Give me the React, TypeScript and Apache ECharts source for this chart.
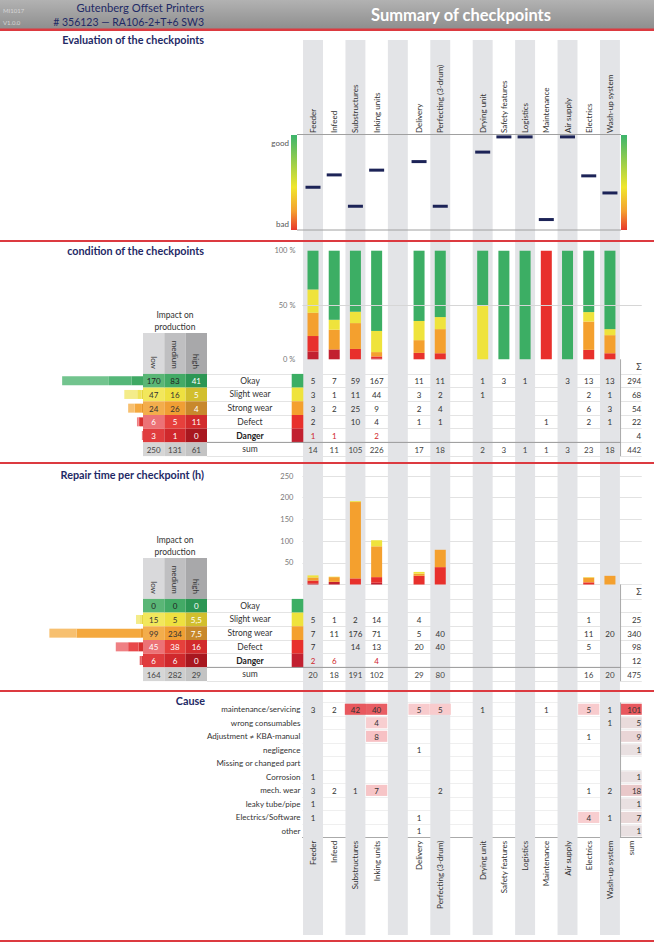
import React, { useEffect, useRef } from 'react';
import * as echarts from 'echarts';

// ---------------- data ----------------
const checkpoints = ['Feeder', 'Infeed', 'Substructures', 'Inking units', '_a', 'Delivery', 'Perfecting (3-drum)', '_b', 'Drying unit', 'Safety features', 'Logistics', 'Maintenance', 'Air supply', 'Electrics', 'Wash-up system', 'sum'];

// evaluation score (0 = bad, 1 = good)
const evaluationScore = [0.45, 0.58, 0.25, 0.63, null, 0.72, 0.25, null, 0.82, 0.98, 0.98, 0.11, 0.98, 0.57, 0.39, null];

const conditions = ['Okay', 'Slight wear', 'Strong wear', 'Defect', 'Danger'];
const impactLevels = ['low', 'medium', 'high'];

// condition counts per checkpoint (15 columns)
const condOkay = [5, 7, 59, 167, 0, 11, 11, 0, 1, 3, 1, 0, 3, 13, 13];
const condSlight = [3, 1, 11, 44, 0, 3, 2, 0, 1, 0, 0, 0, 0, 2, 1];
const condStrong = [3, 2, 25, 9, 0, 2, 4, 0, 0, 0, 0, 0, 0, 6, 3];
const condDefect = [2, 0, 10, 4, 0, 1, 1, 0, 0, 0, 0, 1, 0, 2, 1];
const condDanger = [1, 1, 0, 2, 0, 0, 0, 0, 0, 0, 0, 0, 0, 0, 0];
const condRowSums = [294, 68, 54, 22, 4];
const condColSums = [14, 11, 105, 226, 0, 17, 18, 0, 2, 3, 1, 1, 3, 23, 18];
const condTotal = 442;
const condImpactLow = [170, 47, 24, 6, 3];
const condImpactMedium = [83, 16, 26, 5, 1];
const condImpactHigh = [41, 5, 4, 11, 0];
const condImpactSum = [250, 131, 61];

// repair time (h) per checkpoint
const repairOkay = [0, 0, 0, 0, 0, 0, 0, 0, 0, 0, 0, 0, 0, 0, 0];
const repairSlight = [5, 1, 2, 14, 0, 4, 0, 0, 0, 0, 0, 0, 0, 1, 0];
const repairStrong = [7, 11, 176, 71, 0, 5, 40, 0, 0, 0, 0, 0, 0, 11, 20];
const repairDefect = [7, 0, 14, 13, 0, 20, 40, 0, 0, 0, 0, 0, 0, 5, 0];
const repairDanger = [2, 6, 0, 4, 0, 0, 0, 0, 0, 0, 0, 0, 0, 0, 0];
const repairRowSums = [0, 25, 340, 98, 12];
const repairColSums = [20, 18, 191, 102, 0, 29, 80, 0, 0, 0, 0, 0, 0, 16, 20];
const repairTotal = 475;
const repairImpactLow = [0, 15, 99, 45, 6];
const repairImpactMedium = [0, 5, 234, 38, 6];
const repairImpactHigh = [0, 5.5, 7.5, 16, 0];
const repairImpactSum = [164, 282, 29];

// causes (15 checkpoint columns + sum)
const causes = ['maintenance/servicing', 'wrong consumables', 'Adjustment ≠ KBA-manual', 'negligence', 'Missing or changed part', 'Corrosion', 'mech. wear', 'leaky tube/pipe', 'Electrics/Software', 'other'];
const causeMaintenance = [3, 2, 42, 40, 0, 5, 5, 0, 1, 0, 0, 1, 0, 5, 1, 101];
const causeConsumables = [0, 0, 0, 4, 0, 0, 0, 0, 0, 0, 0, 0, 0, 0, 1, 5];
const causeAdjustment = [0, 0, 0, 8, 0, 0, 0, 0, 0, 0, 0, 0, 0, 1, 0, 9];
const causeNegligence = [0, 0, 0, 0, 0, 1, 0, 0, 0, 0, 0, 0, 0, 0, 0, 1];
const causeMissing = [0, 0, 0, 0, 0, 0, 0, 0, 0, 0, 0, 0, 0, 0, 0, 0];
const causeCorrosion = [1, 0, 0, 0, 0, 0, 0, 0, 0, 0, 0, 0, 0, 0, 0, 1];
const causeMechWear = [3, 2, 1, 7, 0, 0, 2, 0, 0, 0, 0, 0, 0, 1, 2, 18];
const causeLeaky = [1, 0, 0, 0, 0, 0, 0, 0, 0, 0, 0, 0, 0, 0, 0, 1];
const causeElectrics = [1, 0, 0, 0, 0, 1, 0, 0, 0, 0, 0, 0, 0, 4, 1, 7];
const causeOther = [0, 0, 0, 0, 0, 1, 0, 0, 0, 0, 0, 0, 0, 0, 0, 1];

// ---------------- styles / layout ----------------
const FONT = 'Lato, "Noto Sans", sans-serif';
const NAVY = '#1f2a66';
const RED_LINE = '#dc3a40';
const STRIPE = '#e3e4e7';
const C_OKAY = '#3cae64';
const C_SLIGHT = '#efe33c';
const C_STRONG = '#f4a02e';
const C_DEFECT = '#e8302c';
const C_DANGER = '#c22030';
const SWATCH = [C_OKAY, C_SLIGHT, C_STRONG, C_DEFECT, C_DANGER];
const DANGER_TXT = '#d0262c';

const IMP_FILL = [
  ['#5ab676', '#43aa66', '#2c9654'],
  ['#f2e75c', '#eee040', '#d2bf2e'],
  ['#f3ad4c', '#f09e34', '#c8882c'],
  ['#ec7276', '#e6403c', '#d22b2c'],
  ['#e03c3e', '#d0282c', '#a8171f'],
  ['#d6d6d6', '#cdcdcd', '#c3c3c3'],
];
const IMP_TEXT = [
  ['#222', '#222', '#fff'],
  ['#333', '#333', '#fff'],
  ['#333', '#333', '#fff'],
  ['#fff', '#fff', '#fff'],
  ['#fff', '#fff', '#fff'],
  ['#444', '#444', '#444'],
];
const IMP_HDR = ['#d9d9db', '#bfbfc1', '#a8a8aa'];
const LB_COLORS = [
  ['#72c48e', '#55b778', '#3fa964'],
  ['#f4ec8a', '#f0e45a', '#e6d640'],
  ['#f7c070', '#f4a83e', '#e8962a'],
  ['#ef8084', '#e8484a', '#d83030'],
  ['#e85a5e', '#d83a3e', '#b82228'],
];

const COL_LEFT = 302.4;
const COL_W = 21.21;
const NCOL = 16;
const GRID_W = COL_W * NCOL;
const SUM_X = COL_LEFT + 15 * COL_W;
const ROW_H = 13.7;
const IMP_LEFT = 143;
const IMP_W = 64;
const LB_LEFT = 33;
const LB_W = 110;
const SW_LEFT = 291.7;
const SW_W = 11.6;
const LABEL_LEFT = 207;
const CAUSE_TOP = 702.5;
const CAUSE_ROW = 13.52;

function mix(a: string, b: string, t: number) {
  const pa = [1, 3, 5].map((i) => parseInt(a.slice(i, i + 2), 16));
  const pb = [1, 3, 5].map((i) => parseInt(b.slice(i, i + 2), 16));
  const m = pa.map((x, i) => Math.round(x + (pb[i] - x) * t));
  return '#' + m.map((x) => x.toString(16).padStart(2, '0')).join('');
}

type Cell = { c: number; r: number; text: string; fill?: string; color?: string; bold?: boolean; right?: boolean };

function cellSeries(axisIndex: number, cells: Cell[], fillRatio: number) {
  return {
    type: 'custom',
    xAxisIndex: axisIndex,
    yAxisIndex: axisIndex,
    silent: true,
    z: 5,
    data: cells.map((c) => [c.c, c.r]),
    renderItem: (params: any, api: any) => {
      const cell = cells[params.dataIndex];
      const p = api.coord([api.value(0), api.value(1)]);
      const s = api.size([1, 1]);
      const children: any[] = [];
      if (cell.fill) {
        const h = s[1] * fillRatio;
        children.push({ type: 'rect', shape: { x: p[0] - s[0] / 2, y: p[1] - h / 2, width: s[0], height: h }, style: { fill: cell.fill } });
      }
      children.push({
        type: 'text',
        style: {
          text: cell.text,
          x: cell.right ? p[0] + s[0] / 2 - 0.5 : p[0],
          y: p[1] + 0.5,
          align: cell.right ? 'right' : 'center',
          verticalAlign: 'middle',
          fill: cell.color || '#333',
          fontSize: 8,
          fontFamily: FONT,
          fontWeight: cell.bold ? 'bold' : 'normal',
        },
      });
      return { type: 'group', children };
    },
  };
}

function buildOption() {
  const grids: any[] = [];
  const xAxes: any[] = [];
  const yAxes: any[] = [];
  const series: any[] = [];
  const graphics: any[] = [];
  const addGrid = (grid: any, x: any, y: any) => {
    const i = grids.length;
    grids.push(grid);
    xAxes.push({ ...x, gridIndex: i });
    yAxes.push({ ...y, gridIndex: i });
    return i;
  };
  const txt = (text: string, x: number, y: number, o: any = {}) => ({
    type: 'text', z: 20,
    style: { text, x, y, fill: o.fill || '#333', fontSize: o.size || 8, fontFamily: FONT, fontWeight: o.weight || 'normal', align: o.align || 'left', verticalAlign: 'middle' },
  });
  const hline = (x1: number, x2: number, y: number, color: string, w = 1) => ({ type: 'line', z: 15, shape: { x1, y1: y, x2, y2: y }, style: { stroke: color, lineWidth: w } });
  const vline = (x: number, y1: number, y2: number, color: string) => ({ type: 'line', z: 15, shape: { x1: x, y1, x2: x, y2 }, style: { stroke: color, lineWidth: 1 } });

  const topLabel = (v: string) => (v === 'sum' || v.startsWith('_') ? '' : v);
  const bottomLabel = (v: string) => (v.startsWith('_') ? '' : v);
  const rows6 = [...conditions, 'sum'];

  // ---- stripes ----
  const g0 = addGrid({ left: COL_LEFT, top: 40, width: GRID_W, height: 895 }, { type: 'category', data: checkpoints, show: false }, { type: 'value', min: 0, max: 1, show: false });
  series.push({ type: 'bar', xAxisIndex: g0, yAxisIndex: g0, silent: true, z: 0, barWidth: '94%', itemStyle: { color: STRIPE }, data: checkpoints.map((_, i) => (i % 2 === 0 && i < 15 ? 1 : '-')) });

  // ---- header ----
  graphics.push({ type: 'rect', z: 1, shape: { x: 0, y: 0, width: 654, height: 29 }, style: { fill: { type: 'linear', x: 0, y: 0, x2: 0, y2: 1, colorStops: [{ offset: 0, color: '#b2b2b2' }, { offset: 1, color: '#8e8e8e' }] } } });
  graphics.push({ type: 'rect', z: 16, shape: { x: 0, y: 28.5, width: 654, height: 2.5 }, style: { fill: RED_LINE } });
  graphics.push(txt('MI1017', 3, 10, { fill: '#d6d6d6', size: 6 }));
  graphics.push(txt('V1.0.0', 3, 22, { fill: '#d6d6d6', size: 6 }));
  graphics.push(txt('Gutenberg Offset Printers', 204, 7.5, { fill: NAVY, size: 11.2, align: 'right' }));
  graphics.push(txt('# 356123 — RA106-2+T+6 SW3', 204, 21.5, { fill: NAVY, size: 10.5, align: 'right' }));
  graphics.push(txt('Summary of checkpoints', 461, 15, { fill: '#ffffff', size: 16.5, weight: 'bold', align: 'center' }));

  // section titles and lines
  const TS = 10.8;
  graphics.push(txt('Evaluation of the checkpoints', 204, 39.5, { fill: NAVY, size: TS, weight: 'bold', align: 'right' }));
  graphics.push(txt('condition of the checkpoints', 204, 250, { fill: NAVY, size: TS, weight: 'bold', align: 'right' }));
  graphics.push(txt('Repair time per checkpoint (h)', 204, 474, { fill: NAVY, size: TS, weight: 'bold', align: 'right' }));
  graphics.push(txt('Cause', 205, 700, { fill: NAVY, size: TS, weight: 'bold', align: 'right' }));
  [241, 463, 691, 941].forEach((y) => graphics.push({ type: 'rect', z: 16, shape: { x: 0, y: y - 1, width: 654, height: 2 }, style: { fill: RED_LINE } }));

  // ---- evaluation ----
  const g1 = addGrid(
    { left: COL_LEFT, top: 135, width: GRID_W, height: 95 },
    { type: 'category', data: checkpoints, position: 'top', axisLine: { show: false }, axisTick: { show: false }, axisLabel: { rotate: 90, interval: 0, margin: 2, fontSize: 8, color: '#333', fontFamily: FONT, formatter: topLabel } },
    { type: 'value', min: 0, max: 1, show: false }
  );
  series.push({
    type: 'scatter', xAxisIndex: g1, yAxisIndex: g1, silent: true, z: 6, symbol: 'rect', symbolSize: [15, 3], itemStyle: { color: '#1c2357', opacity: 1 },
    data: evaluationScore.map((v, i) => (v == null ? null : [i, v])).filter((d) => d !== null),
  });
  const grad = { type: 'linear', x: 0, y: 0, x2: 0, y2: 1, colorStops: [{ offset: 0, color: '#3cb46c' }, { offset: 0.55, color: '#f0e62c' }, { offset: 0.8, color: '#f4a030' }, { offset: 1, color: '#e8382a' }] };
  graphics.push({ type: 'rect', z: 10, shape: { x: 291, y: 135, width: 6, height: 95 }, style: { fill: grad } });
  graphics.push({ type: 'rect', z: 10, shape: { x: 621, y: 135, width: 6, height: 95 }, style: { fill: grad } });
  graphics.push(hline(297, 621, 134.5, '#a0a0a0'));
  graphics.push(hline(297, 621, 230, '#a0a0a0'));
  graphics.push(txt('good', 289, 143, { fill: '#555', size: 8, align: 'right' }));
  graphics.push(txt('bad', 289, 224, { fill: '#555', size: 8, align: 'right' }));

  // ---- condition / repair sections ----
  const section = (o: any) => {
    const gc = addGrid(
      { left: COL_LEFT, top: o.chartTop, width: GRID_W, height: o.chartH },
      { type: 'category', data: checkpoints, show: false },
      {
        type: 'value', min: 0, max: o.yMax, interval: o.yInterval, axisLine: { show: false }, axisTick: { show: false },
        axisLabel: { formatter: o.yFmt, margin: o.yMargin, fontSize: 7.5, color: '#777', fontFamily: FONT },
        splitLine: { show: o.splitLines, lineStyle: { color: '#e2e2e2' } },
      }
    );
    o.bars.forEach((d: any[], k: number) => {
      series.push({
        type: 'bar', xAxisIndex: gc, yAxisIndex: gc, stack: 'st' + gc, barWidth: 11, silent: true, z: 3, data: d, itemStyle: { color: o.barColors[k] },
        markLine: k === 0 && o.mark50 ? { silent: true, symbol: ['none', 'none'], label: { show: false }, lineStyle: { color: '#d6d6d6', type: 'solid', width: 1 }, data: [{ yAxis: 50 }] } : undefined,
      });
    });

    const tableH = ROW_H * 6;
    // row separator lines
    addGrid(
      { left: LABEL_LEFT, top: o.tableTop, width: SUM_X + COL_W - LABEL_LEFT, height: tableH },
      { type: 'value', min: 0, max: 1, show: false },
      { type: 'category', data: rows6, inverse: true, axisLine: { show: false }, axisTick: { show: false }, axisLabel: { show: false, interval: 0 }, splitLine: { show: true, interval: 0, lineStyle: { color: '#e4e4e4' } } }
    );
    // table
    const gt = addGrid(
      { left: COL_LEFT, top: o.tableTop, width: GRID_W, height: tableH },
      { type: 'category', data: checkpoints, show: false },
      {
        type: 'category', data: rows6, inverse: true, axisLine: { show: false }, axisTick: { show: false },
        axisLabel: {
          interval: 0, align: 'center', margin: COL_LEFT - 250, fontSize: 8.5, color: '#333', fontFamily: FONT,
          formatter: (v: string) => (v === 'Danger' ? `{b|${v}}` : v),
          rich: { b: { fontWeight: 'bold', fontSize: 8.5, color: '#222', fontFamily: FONT } },
        },
      }
    );
    const cells: Cell[] = [];
    o.rows.forEach((row: number[], r: number) => {
      row.forEach((v, c) => {
        if (v) cells.push({ c, r, text: String(v), color: r === 4 ? DANGER_TXT : '#333' });
      });
      if (o.rowSums[r]) cells.push({ c: 15, r, text: String(o.rowSums[r]), right: true });
    });
    o.colSums.forEach((v: number, c: number) => {
      if (v) cells.push({ c, r: 5, text: String(v), color: '#444' });
    });
    cells.push({ c: 15, r: 5, text: String(o.total), right: true, color: '#444' });
    series.push(cellSeries(gt, cells, 1));

    // swatches
    const gs = addGrid({ left: SW_LEFT, top: o.tableTop, width: SW_W, height: ROW_H * 5 }, { type: 'value', min: 0, max: 1, show: false }, { type: 'category', data: conditions, inverse: true, show: false });
    series.push({ type: 'bar', xAxisIndex: gs, yAxisIndex: gs, silent: true, z: 4, barWidth: '100%', data: conditions.map((_, i) => ({ value: 1, itemStyle: { color: SWATCH[i] } })) });

    // impact table
    const gi = addGrid(
      { left: IMP_LEFT, top: o.tableTop, width: IMP_W, height: tableH },
      { type: 'category', data: impactLevels, position: 'top', z: 30, axisLine: { show: false }, axisTick: { show: false }, axisLabel: { rotate: 90, interval: 0, margin: 5, fontSize: 8, color: '#333', fontFamily: FONT } },
      { type: 'category', data: rows6, inverse: true, show: false }
    );
    const icells: Cell[] = [];
    o.impact.forEach((col: number[], j: number) => {
      col.forEach((v, r) => icells.push({ c: j, r, text: o.impFmt(v), fill: IMP_FILL[r][j], color: IMP_TEXT[r][j] }));
    });
    o.impactSum.forEach((v: number, j: number) => icells.push({ c: j, r: 5, text: o.impFmt(v), fill: IMP_FILL[5][j], color: IMP_TEXT[5][j] }));
    series.push(cellSeries(gi, icells, 1));
    impactLevels.forEach((_, j) => {
      graphics.push({ type: 'rect', z: -1, shape: { x: IMP_LEFT + (j * IMP_W) / 3, y: o.hdrTop, width: IMP_W / 3, height: o.tableTop - o.hdrTop }, style: { fill: IMP_HDR[j] } });
    });
    graphics.push(txt('Impact on', IMP_LEFT + IMP_W / 2, o.titleY, { align: 'center', size: 8.5, fill: '#333' }));
    graphics.push(txt('production', IMP_LEFT + IMP_W / 2, o.titleY + 12, { align: 'center', size: 8.5, fill: '#333' }));

    // left bars
    const gb = addGrid({ left: LB_LEFT, top: o.tableTop, width: LB_W, height: ROW_H * 5 }, { type: 'value', min: 0, max: 400, inverse: true, show: false }, { type: 'category', data: conditions, inverse: true, show: false });
    [2, 1, 0].forEach((j) => {
      series.push({ type: 'bar', xAxisIndex: gb, yAxisIndex: gb, stack: 'lb' + gb, barWidth: 9, silent: true, z: 3, data: o.impact[j].map((v: number, i: number) => ({ value: v, itemStyle: { color: LB_COLORS[i][j] } })) });
    });

    // extras
    graphics.push(txt('Σ', 639, o.tableTop - 7, { align: 'center', size: 9, fill: '#444' }));
    graphics.push(vline(SUM_X, o.chartTop + o.chartH, o.tableTop + tableH, '#a8a8a8'));
    graphics.push(hline(LABEL_LEFT, SUM_X, o.tableTop + ROW_H * 5, '#9a9a9a'));
  };

  const pct = (arr: number[]) => arr.map((v, i) => (condColSums[i] ? (v / condColSums[i]) * 100 : '-'));
  section({
    chartTop: 250.7, chartH: 108.6, yMax: 100, yInterval: 50, yFmt: (v: number) => `${v} %`, yMargin: 7, splitLines: false, mark50: true,
    bars: [pct(condDanger), pct(condDefect), pct(condStrong), pct(condSlight), pct(condOkay)],
    barColors: [C_DANGER, C_DEFECT, C_STRONG, C_SLIGHT, C_OKAY],
    tableTop: 373.9, rows: [condOkay, condSlight, condStrong, condDefect, condDanger], rowSums: condRowSums, colSums: condColSums, total: condTotal,
    impact: [condImpactLow, condImpactMedium, condImpactHigh], impactSum: condImpactSum, impFmt: (v: number) => String(v),
    hdrTop: 333, titleY: 315,
  });
  section({
    chartTop: 476, chartH: 108.5, yMax: 250, yInterval: 50, yFmt: (v: number) => (v === 0 ? '' : String(v)), yMargin: 9, splitLines: true, mark50: false,
    bars: [repairDanger, repairDefect, repairStrong, repairSlight].map((a) => a.map((v) => (v ? v : '-'))),
    barColors: [C_DANGER, C_DEFECT, C_STRONG, C_SLIGHT],
    tableTop: 598.9, rows: [repairOkay, repairSlight, repairStrong, repairDefect, repairDanger], rowSums: repairRowSums, colSums: repairColSums, total: repairTotal,
    impact: [repairImpactLow, repairImpactMedium, repairImpactHigh], impactSum: repairImpactSum, impFmt: (v: number) => String(v).replace('.', ','),
    hdrTop: 558, titleY: 540,
  });

  // ---- cause table ----
  const gcause = addGrid(
    { left: COL_LEFT, top: CAUSE_TOP, width: GRID_W, height: CAUSE_ROW * causes.length },
    { type: 'category', data: checkpoints, position: 'bottom', axisLine: { show: true, lineStyle: { color: '#aaaaaa' } }, axisTick: { show: false }, axisLabel: { rotate: 90, interval: 0, margin: 3, fontSize: 8, color: '#333', fontFamily: FONT, formatter: bottomLabel } },
    { type: 'category', data: causes, inverse: true, axisLine: { show: false }, axisTick: { show: false }, axisLabel: { interval: 0, margin: 2, fontSize: 8, color: '#333', fontFamily: FONT }, splitLine: { show: true, interval: 0, lineStyle: { color: '#efefef' } } }
  );
  const causeRows = [causeMaintenance, causeConsumables, causeAdjustment, causeNegligence, causeMissing, causeCorrosion, causeMechWear, causeLeaky, causeElectrics, causeOther];
  const ccells: Cell[] = [];
  causeRows.forEach((row, r) => {
    row.forEach((v, c) => {
      if (!v) return;
      const isSum = c === 15;
      const fill = isSum ? mix('#e9e9e9', '#e8585e', Math.min(1, 0.05 + v / 101)) : v < 4 ? undefined : mix('#ffffff', '#e8585e', Math.min(1, 0.22 + (0.78 * v) / 42));
      ccells.push({ c, r, text: String(v), fill, right: isSum, color: '#333' });
    });
  });
  series.push(cellSeries(gcause, ccells, 0.82));
  graphics.push(vline(SUM_X, CAUSE_TOP, CAUSE_TOP + CAUSE_ROW * causes.length, '#a8a8a8'));

  return {
    animation: false,
    backgroundColor: '#ffffff',
    textStyle: { fontFamily: FONT },
    grid: grids,
    xAxis: xAxes,
    yAxis: yAxes,
    series,
    graphic: graphics,
  };
}

export default function App() {
  const ref = useRef<HTMLDivElement>(null);
  useEffect(() => {
    document.body.style.margin = '0';
    const chart = echarts.init(ref.current as HTMLDivElement, undefined, { renderer: 'svg' });
    chart.setOption(buildOption() as any);
    return () => chart.dispose();
  }, []);
  return <div ref={ref} style={{ position: 'absolute', left: 0, top: 0, width: 654, height: 951, background: '#fff' }} />;
}
